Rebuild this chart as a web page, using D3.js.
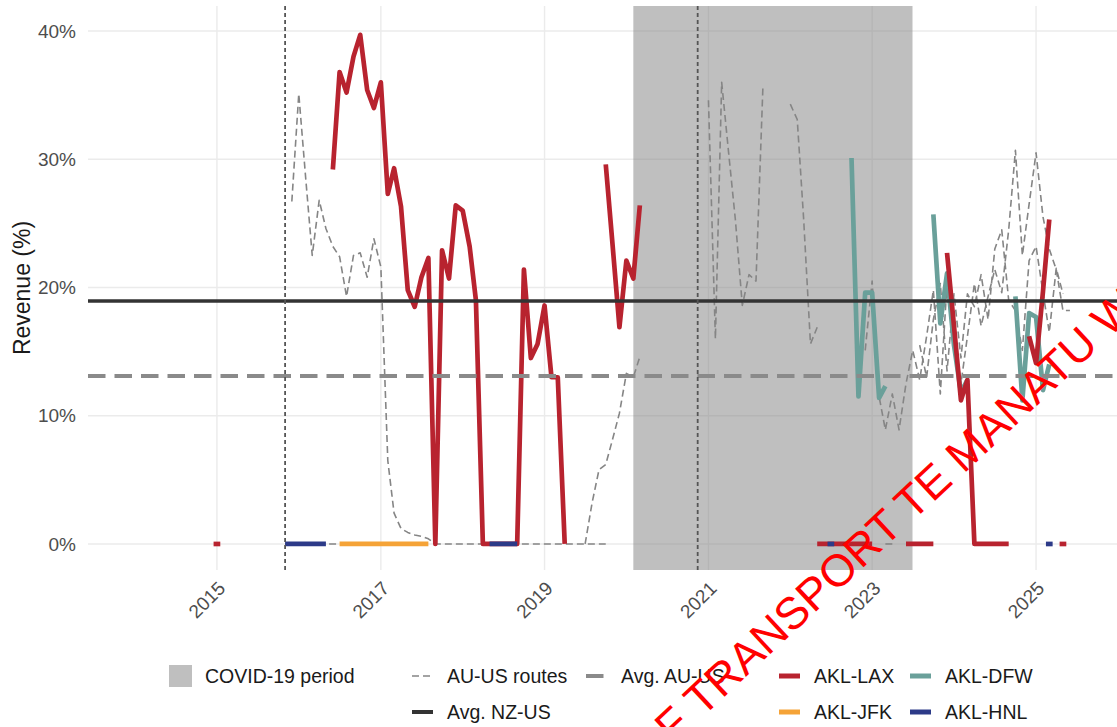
<!DOCTYPE html>
<html>
<head>
<meta charset="utf-8">
<script src="https://cdn.jsdelivr.net/npm/d3@7"></script>
<style>
  body { margin: 0; background: #fff; }
  svg { display: block; font-family: "Liberation Sans", Arial, Helvetica, sans-serif; }
</style>
</head>
<body>
<div id="chart"></div>
<script>
// ---- data (monthly revenue share, %) ----
// null marks a break in the series

const aklLax = [
  ["2015-01", 0], null,
  ["2016-06", 29.2], ["2016-07", 36.8], ["2016-08", 35.2], ["2016-09", 38.0], ["2016-10", 39.7],
  ["2016-11", 35.4], ["2016-12", 34.0], ["2017-01", 36.0], ["2017-02", 27.3], ["2017-03", 29.3],
  ["2017-04", 26.3], ["2017-05", 19.8], ["2017-06", 18.5], ["2017-07", 20.8], ["2017-08", 22.3],
  ["2017-09", 0], ["2017-10", 22.9], ["2017-11", 20.7], ["2017-12", 26.4], ["2018-01", 26.0],
  ["2018-02", 23.2], ["2018-03", 19.0], ["2018-04", 0], ["2018-05", 0], ["2018-06", 0],
  ["2018-07", 0], ["2018-08", 0], ["2018-09", 0], ["2018-10", 21.4], ["2018-11", 14.5],
  ["2018-12", 15.6], ["2019-01", 18.6], ["2019-02", 13.0], ["2019-03", 13.0], ["2019-04", 0], null,
  ["2019-10", 29.6], ["2019-11", 23.2], ["2019-12", 16.9], ["2020-01", 22.1], ["2020-02", 20.7],
  ["2020-03", 26.4], null,
  ["2022-05", 0], ["2022-06", 0], ["2022-07", 0], ["2022-08", 0], ["2022-09", 0], ["2022-10", 0],
  ["2022-11", 0], ["2022-12", 0], ["2023-01", 0], null,
  ["2023-06", 0], ["2023-07", 0], ["2023-08", 0], ["2023-09", 0], ["2023-10", 0], null,
  ["2023-12", 22.7], ["2024-01", 17.0], ["2024-02", 11.2], ["2024-03", 12.8], ["2024-04", 0],
  ["2024-05", 0], ["2024-06", 0], ["2024-07", 0], ["2024-08", 0], ["2024-09", 0], null,
  ["2024-12", 16.2], ["2025-01", 14.1], ["2025-02", 19.7], ["2025-03", 25.3], null,
  ["2025-05", 0]
];

const aklDfw = [
  ["2022-10", 30.1], ["2022-11", 11.5], ["2022-12", 19.6], ["2023-01", 19.6], ["2023-02", 11.4],
  ["2023-03", 12.3], null,
  ["2023-10", 25.7], ["2023-11", 17.2], ["2023-12", 21.1], ["2024-01", 15.5], ["2024-02", 11.8],
  ["2024-03", 12.8], null,
  ["2024-10", 19.3], ["2024-11", 11.2], ["2024-12", 18.0], ["2025-01", 17.7], ["2025-02", 12.0],
  ["2025-03", 14.0]
];

const aklJfk = [
  ["2016-07", 0], ["2016-08", 0], ["2016-09", 0], ["2016-10", 0], ["2016-11", 0], ["2016-12", 0],
  ["2017-01", 0], ["2017-02", 0], ["2017-03", 0], ["2017-04", 0], ["2017-05", 0], ["2017-06", 0],
  ["2017-07", 0], ["2017-08", 0]
];

const aklHnl = [
  ["2015-11", 0], ["2015-12", 0], ["2016-01", 0], ["2016-02", 0], ["2016-03", 0], ["2016-04", 0],
  ["2016-05", 0], null,
  ["2018-05", 0], ["2018-06", 0], ["2018-07", 0], ["2018-08", 0], ["2018-09", 0], null,
  ["2022-07", 0], null,
  ["2025-03", 0]
];

// individual AU-US routes (thin dashed)
const auRouteA = [
  ["2015-12", 26.7], ["2016-01", 35.1], ["2016-02", 28.5], ["2016-03", 22.5], ["2016-04", 26.8],
  ["2016-05", 24.6], ["2016-06", 23.2], ["2016-07", 22.4], ["2016-08", 19.3], ["2016-09", 22.5],
  ["2016-10", 22.7], ["2016-11", 20.8], ["2016-12", 23.8], ["2017-01", 21.6], ["2017-02", 6.5],
  ["2017-03", 2.4], ["2017-04", 1.2], ["2017-05", 0.9], ["2017-06", 0.7], ["2017-07", 0.6],
  ["2017-08", 0.4], ["2017-09", 0], ["2017-10", 0], ["2017-11", 0], ["2017-12", 0], ["2018-01", 0],
  ["2018-02", 0], ["2018-03", 0], ["2018-04", 0], ["2018-05", 0], ["2018-06", 0], ["2018-07", 0],
  ["2018-08", 0], ["2018-09", 0], ["2018-10", 0], ["2018-11", 0], ["2018-12", 0], ["2019-01", 0],
  ["2019-02", 0], ["2019-03", 0], ["2019-04", 0], ["2019-05", 0], ["2019-06", 0], ["2019-07", 0],
  ["2019-08", 0], ["2019-09", 0], ["2019-10", 0]
];
const auRouteB = [
  ["2015-11", 0], ["2015-12", 0], ["2016-01", 0], ["2016-02", 0], ["2016-03", 0], ["2016-04", 0],
  ["2016-05", 0], ["2016-06", 0], ["2016-07", 0]
];
const auRouteC = [
  ["2019-07", 0], ["2019-08", 3.2], ["2019-09", 5.8], ["2019-10", 6.2], ["2019-11", 8.2],
  ["2019-12", 10.2], ["2020-01", 13.3], ["2020-02", 13.0], ["2020-03", 14.6]
];
const auRouteD = [
  ["2021-01", 34.6], ["2021-02", 16.0], ["2021-03", 36.0], ["2021-04", 30.5], ["2021-05", 25.3],
  ["2021-06", 18.6], ["2021-07", 21.0], ["2021-08", 20.5], ["2021-09", 35.7], null,
  ["2022-01", 34.3], ["2022-02", 33.1], ["2022-03", 25.5], ["2022-04", 15.6], ["2022-05", 16.9]
];
const auRouteE = [
  ["2022-12", 15.1], ["2023-01", 20.5], ["2023-02", 11.5], ["2023-03", 8.9], ["2023-04", 11.7],
  ["2023-05", 8.9], ["2023-06", 12.5], ["2023-07", 15.1], ["2023-08", 12.8], ["2023-09", 16.2],
  ["2023-10", 19.8], ["2023-11", 11.7], ["2023-12", 20.3], ["2024-01", 15.1], ["2024-02", 12.5],
  ["2024-03", 16.2], ["2024-04", 20.3], ["2024-05", 17.0], ["2024-06", 19.3], ["2024-07", 21.4],
  ["2024-08", 19.6], ["2024-09", 24.5], ["2024-10", 30.7], ["2024-11", 22.5], ["2024-12", 26.5],
  ["2025-01", 30.5], ["2025-02", 25.5], ["2025-03", 23.0], ["2025-04", 21.4], ["2025-05", 18.2],
  ["2025-06", 18.2]
];
const auRouteF = [
  ["2023-08", 15.5], ["2023-09", 13.0], ["2023-10", 17.5], ["2023-11", 20.3], ["2023-12", 13.5],
  ["2024-01", 19.5], ["2024-02", 14.5], ["2024-03", 19.5], ["2024-04", 18.5], ["2024-05", 21.0],
  ["2024-06", 17.5], ["2024-07", 23.0], ["2024-08", 24.5], ["2024-09", 19.0], ["2024-10", 18.2],
  ["2024-11", 15.1], ["2024-12", 22.1], ["2025-01", 23.2], ["2025-02", 19.6], ["2025-03", 16.5],
  ["2025-04", 21.5], ["2025-05", 19.5]
];
const auRouteG = [["2023-03", 0], ["2023-04", 0]];

const avgNzUs = 18.95;
const avgAuUs = 13.1;
const covidPeriod = ["2020-02-01", "2023-06-30"];
const markerDates = ["2015-11-01", "2020-11-14"];

const yTicks = [0, 10, 20, 30, 40];
const xTickYears = [2015, 2017, 2019, 2021, 2023, 2025];

// ---- layout ----
const width = 1117, height = 727;
const panel = {left: 88, right: 1117, top: 6, bottom: 570};

const colors = {
  lax: "#b8232f", dfw: "#6aa09a", jfk: "#f5a337", hnl: "#2c3a88",
  route: "#858585", avgAu: "#8a8a8a", avgNz: "#333333", covid: "#7f7f7f"
};

const parseMonth = d3.timeParse("%Y-%m");
const parseDay = d3.timeParse("%Y-%m-%d");

const x = d3.scaleTime()
  .domain([new Date(2013, 5, 5), new Date(2025, 11, 28)])
  .range([panel.left, panel.right]);
const y = d3.scaleLinear()
  .domain([-2.03, 41.95])
  .range([panel.bottom, panel.top]);

const toPoints = arr => arr.map(d => d ? {date: parseMonth(d[0]), v: d[1]} : null);

const svg = d3.select("#chart").append("svg")
  .attr("width", width)
  .attr("height", height)
  .attr("viewBox", [0, 0, width, height]);

svg.append("defs").append("clipPath").attr("id", "panel-clip")
  .append("rect")
  .attr("x", panel.left).attr("y", panel.top)
  .attr("width", panel.right - panel.left).attr("height", panel.bottom - panel.top);

// grid
const grid = svg.append("g");
grid.selectAll(".hgrid").data(yTicks).enter().append("line")
  .attr("x1", panel.left).attr("x2", panel.right)
  .attr("y1", d => y(d)).attr("y2", d => y(d))
  .attr("stroke", "#ebebeb").attr("stroke-width", 1.4);
grid.selectAll(".vgrid").data(xTickYears).enter().append("line")
  .attr("x1", d => x(new Date(d, 0, 1))).attr("x2", d => x(new Date(d, 0, 1)))
  .attr("y1", panel.top).attr("y2", panel.bottom)
  .attr("stroke", "#ebebeb").attr("stroke-width", 1.4);

const plot = svg.append("g").attr("clip-path", "url(#panel-clip)");

// covid shading
plot.append("rect")
  .attr("x", x(parseDay(covidPeriod[0])))
  .attr("width", x(parseDay(covidPeriod[1])) - x(parseDay(covidPeriod[0])))
  .attr("y", panel.top).attr("height", panel.bottom - panel.top)
  .attr("fill", colors.covid).attr("fill-opacity", 0.5);

const line = d3.line()
  .defined(d => d !== null)
  .x(d => x(d.date))
  .y(d => y(d.v));

function drawSeries(arr, color, w, dash) {
  const pts = toPoints(arr);
  plot.append("path")
    .datum(pts)
    .attr("d", line)
    .attr("fill", "none")
    .attr("stroke", color)
    .attr("stroke-width", w)
    .attr("stroke-linejoin", "round")
    .attr("stroke-dasharray", dash || null);
  // isolated months get a short tick so they stay visible
  const lone = pts.filter((d, i) => d && !pts[i - 1] && !pts[i + 1]);
  plot.selectAll(null).data(lone).enter().append("rect")
    .attr("x", d => x(d.date) - w / 2 - 1)
    .attr("y", d => y(d.v) - w / 2)
    .attr("width", w + 2).attr("height", w)
    .attr("fill", color);
}

// AU-US routes
[auRouteA, auRouteB, auRouteC, auRouteD, auRouteE, auRouteF, auRouteG]
  .forEach(r => drawSeries(r, colors.route, 1.6, "7,4"));

// NZ routes
drawSeries(aklDfw, colors.dfw, 4.7);
drawSeries(aklLax, colors.lax, 4.7);
drawSeries(aklJfk, colors.jfk, 4.7);
drawSeries(aklHnl, colors.hnl, 4.7);

// averages
plot.append("line")
  .attr("x1", panel.left).attr("x2", panel.right)
  .attr("y1", y(avgAuUs)).attr("y2", y(avgAuUs))
  .attr("stroke", colors.avgAu).attr("stroke-width", 4)
  .attr("stroke-dasharray", "17.5,9");
plot.append("line")
  .attr("x1", panel.left).attr("x2", panel.right)
  .attr("y1", y(avgNzUs)).attr("y2", y(avgNzUs))
  .attr("stroke", colors.avgNz).attr("stroke-width", 3.6);

// event markers
plot.selectAll(".marker").data(markerDates).enter().append("line")
  .attr("x1", d => x(parseDay(d))).attr("x2", d => x(parseDay(d)))
  .attr("y1", panel.top).attr("y2", panel.bottom)
  .attr("stroke", "#555555").attr("stroke-width", 1.8)
  .attr("stroke-dasharray", "4,3");

// axes labels
svg.append("g").selectAll("text").data(yTicks).enter().append("text")
  .attr("x", 76).attr("y", d => y(d))
  .attr("dy", "0.35em")
  .attr("text-anchor", "end")
  .attr("font-size", 19)
  .attr("fill", "#4d4d4d")
  .text(d => d + "%");

svg.append("g").selectAll("text").data(xTickYears).enter().append("text")
  .attr("transform", d => `translate(${x(new Date(d, 0, 1))},580) rotate(-45)`)
  .attr("dy", "0.71em")
  .attr("text-anchor", "end")
  .attr("font-size", 19)
  .attr("fill", "#4d4d4d")
  .text(d => d);

svg.append("text")
  .attr("transform", `translate(30,${(panel.top + panel.bottom) / 2}) rotate(-90)`)
  .attr("text-anchor", "middle")
  .attr("font-size", 23)
  .attr("fill", "#1a1a1a")
  .text("Revenue (%)");

// legend
const legendItems = [
  {label: "COVID-19 period", kind: "box", x: 169, row: 0},
  {label: "AU-US routes", kind: "route", x: 412, row: 0},
  {label: "Avg. AU-US", kind: "avgAu", x: 586, row: 0},
  {label: "Avg. NZ-US", kind: "avgNz", x: 412, row: 1},
  {label: "AKL-LAX", kind: "lax", x: 779, row: 0},
  {label: "AKL-DFW", kind: "dfw", x: 910, row: 0},
  {label: "AKL-JFK", kind: "jfk", x: 779, row: 1},
  {label: "AKL-HNL", kind: "hnl", x: 910, row: 1}
];
const rowY = [676, 712];
const legend = svg.append("g");
legendItems.forEach(it => {
  const cy = rowY[it.row];
  const g = legend.append("g");
  if (it.kind === "box") {
    g.append("rect").attr("x", it.x).attr("y", cy - 11).attr("width", 23).attr("height", 22)
      .attr("fill", colors.covid).attr("fill-opacity", 0.5);
  } else {
    const k = g.append("line").attr("x1", it.x).attr("x2", it.x + 21).attr("y1", cy).attr("y2", cy);
    if (it.kind === "route") k.attr("stroke", colors.route).attr("stroke-width", 1.5).attr("stroke-dasharray", "7,4");
    else if (it.kind === "avgAu") k.attr("stroke", colors.avgAu).attr("stroke-width", 4).attr("stroke-dasharray", "17.5,9");
    else if (it.kind === "avgNz") k.attr("stroke", colors.avgNz).attr("stroke-width", 4);
    else k.attr("stroke", colors[it.kind]).attr("stroke-width", 5);
  }
  g.append("text")
    .attr("x", it.kind === "box" ? it.x + 36 : it.x + 35)
    .attr("y", cy).attr("dy", "0.36em")
    .attr("font-size", 19.5)
    .attr("fill", "#1a1a1a")
    .text(it.label);
});

// watermark
const wm = svg.append("g")
  .attr("transform", "translate(702,718) rotate(-43)")
  .attr("fill", "#ff0000")
  .attr("font-size", 45);
wm.append("text").attr("text-anchor", "end").text("MINISTRY OF\u00a0");
wm.append("text").attr("text-anchor", "start").text("TRANSPORT TE MANATU WAKA");
</script>
</body>
</html>
